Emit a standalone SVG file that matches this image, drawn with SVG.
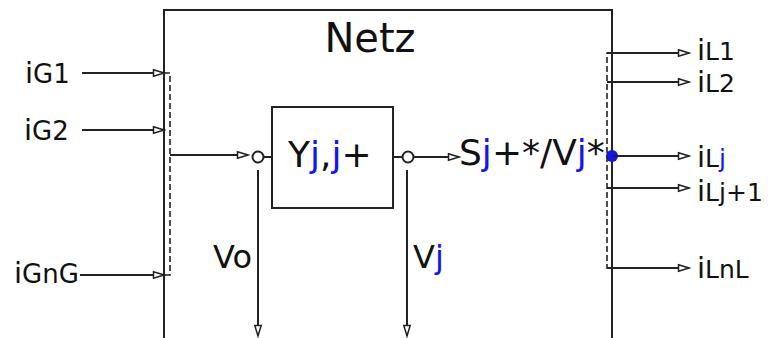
<svg xmlns="http://www.w3.org/2000/svg" width="768" height="338" viewBox="0 0 768 338">
<style>
.t{font-family:"DejaVu Sans","Liberation Sans",sans-serif;fill:#111}
.b{fill:#1414f0}
.big{font-size:29px}
.ln{stroke:#222;stroke-width:2;fill:none}
.dash{stroke:#222;stroke-width:1.6;fill:none;stroke-dasharray:6,3}
</style>
<defs>
<marker id="ah" markerUnits="userSpaceOnUse" markerWidth="14" markerHeight="10" refX="12" refY="5" orient="auto">
<path d="M1.5,1.8 L12,5 L1.5,8.2 Z" fill="#fff" stroke="#222" stroke-width="1.5"/>
</marker>
</defs>
<g id="netz">
<path class="ln" d="M164,340 V10 H612 V340"/>
<text class="t" x="370" y="52" font-size="40" text-anchor="middle">Netz</text>
</g>
<g id="ybox">
<rect class="ln" x="272" y="107" width="121" height="101"/>
<text class="t" x="288" y="167" font-size="36">Y<tspan class="b">j</tspan>,<tspan class="b">j</tspan>+</text>
</g>
<g id="node-in">
<circle class="ln" cx="258" cy="157" r="5.5"/>
</g>
<g id="node-out">
<circle class="ln" cx="408" cy="157" r="5.5"/>
</g>
<g id="bus-j">
<circle cx="612" cy="156" r="6" fill="#1414f0"/>
</g>
<g id="labels">
<text class="t" x="25" y="83" font-size="26"><tspan class="big">i</tspan>G1</text>
<text class="t" x="24" y="140" font-size="26"><tspan class="big">i</tspan>G2</text>
<text class="t" x="14" y="283" font-size="26"><tspan class="big">i</tspan>GnG</text>
<text class="t" x="459" y="165" font-size="36">S<tspan class="b">j</tspan>+*/V<tspan class="b">j</tspan>*</text>
<text class="t" x="213" y="268" font-size="32">Vo</text>
<text class="t" x="413" y="268" font-size="32">V<tspan class="b">j</tspan></text>
<text class="t" x="697" y="60" font-size="25"><tspan class="big">i</tspan>L1</text>
<text class="t" x="697" y="92" font-size="25"><tspan class="big">i</tspan>L2</text>
<text class="t" x="697" y="167" font-size="25"><tspan class="big">i</tspan>L<tspan class="b">j</tspan></text>
<text class="t" x="697" y="201" font-size="25"><tspan class="big">i</tspan>Lj+1</text>
<text class="t" x="697" y="278" font-size="25"><tspan class="big">i</tspan>LnL</text>
</g>
<g id="connectors">
<line class="ln" x1="82" y1="73" x2="164" y2="73" marker-end="url(#ah)"/>
<line class="ln" x1="82" y1="130" x2="164" y2="130" marker-end="url(#ah)"/>
<line class="ln" x1="80" y1="275" x2="164" y2="275" marker-end="url(#ah)"/>
<path class="dash" d="M164,73 H170 V275 H164"/>
<line class="ln" x1="170" y1="155" x2="248" y2="155" marker-end="url(#ah)"/>
<line class="ln" x1="263.5" y1="157" x2="272" y2="157"/>
<line class="ln" x1="393" y1="157" x2="402.5" y2="157"/>
<line class="ln" x1="413.5" y1="157" x2="459" y2="157" marker-end="url(#ah)"/>
<line class="ln" x1="258" y1="170" x2="258" y2="336" marker-end="url(#ah)"/>
<line class="ln" x1="407" y1="170" x2="407" y2="336" marker-end="url(#ah)"/>
<path class="dash" d="M612,53 H607 V268 H612"/>
<line class="ln" x1="607" y1="53" x2="689" y2="53" marker-end="url(#ah)"/>
<line class="ln" x1="607" y1="82" x2="689" y2="82" marker-end="url(#ah)"/>
<line class="ln" x1="612" y1="156" x2="689" y2="156" marker-end="url(#ah)"/>
<line class="ln" x1="607" y1="188" x2="689" y2="188" marker-end="url(#ah)"/>
<line class="ln" x1="607" y1="268" x2="689" y2="268" marker-end="url(#ah)"/>
</g>
</svg>
